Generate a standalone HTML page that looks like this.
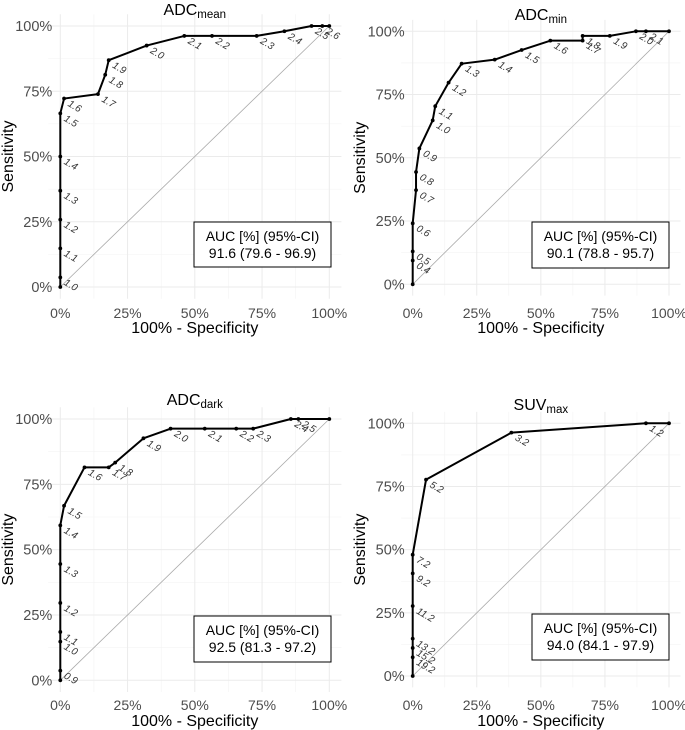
<!DOCTYPE html>
<html><head><meta charset="utf-8"><style>
html,body{margin:0;padding:0;background:#fff;}
svg{display:block;font-family:"Liberation Sans",sans-serif;}
</style></head><body>
<svg id="chart" width="685" height="730" viewBox="0 0 685 730"></svg>
<script>
// ADCmean
const meanX=[0,0,0,0,0,0,0,0.014,0.14,0.167,0.18,0.321,0.461,0.564,0.73,0.833,0.934,0.974,1];
const meanY=[0,0.037,0.148,0.258,0.369,0.5,0.665,0.722,0.739,0.813,0.869,0.925,0.962,0.962,0.962,0.98,1,1,1];
const meanLbl=["","1.0","1.1","1.2","1.3","1.4","1.5","1.6","1.7","1.8","1.9","2.0","2.1","2.2","2.3","2.4","2.5","2.6",""];
// ADCmin
const minX=[0,0,0,0,0.013,0.013,0.026,0.078,0.088,0.14,0.191,0.32,0.425,0.537,0.663,0.663,0.769,0.871,0.91,1];
const minY=[0,0.094,0.13,0.241,0.372,0.444,0.537,0.648,0.704,0.797,0.872,0.888,0.926,0.963,0.963,0.982,0.982,1,1,1];
const minLbl=["","0.4","0.5","0.6","0.7","0.8","0.9","1.0","1.1","1.2","1.3","1.4","1.5","1.6","1.7","1.8","1.9","2.0","2.1",""];
// ADCdark
const darkX=[0,0,0,0,0,0,0,0.014,0.09,0.18,0.204,0.309,0.41,0.537,0.654,0.717,0.857,0.885,1];
const darkY=[0,0.037,0.148,0.185,0.296,0.445,0.593,0.668,0.815,0.815,0.833,0.926,0.963,0.963,0.963,0.963,1,1,1];
const darkLbl=["","0.9","1.0","1.1","1.2","1.3","1.4","1.5","1.6","1.7","1.8","1.9","2.0","2.1","2.2","2.3","2.4","2.5",""];
// SUVmax
const suvX=[0,0,0,0,0,0,0,0.052,0.385,0.91,1];
const suvY=[0,0.074,0.111,0.148,0.277,0.406,0.48,0.777,0.963,1,1];
const suvLbl=["","19.2","15.2","13.2","11.2","9.2","7.2","5.2","3.2","1.2",""];
const tickVals=[0,0.25,0.5,0.75,1];
const tickLbls=["0%","25%","50%","75%","100%"];
const aucLines=[["AUC [%] (95%-CI)","91.6 (79.6 - 96.9)"],["AUC [%] (95%-CI)","90.1 (78.8 - 95.7)"],["AUC [%] (95%-CI)","92.5 (81.3 - 97.2)"],["AUC [%] (95%-CI)","94.0 (84.1 - 97.9)"]];

const NS="http://www.w3.org/2000/svg";
const svg=document.getElementById('chart');
function mk(tag,attrs,parent,text){const e=document.createElementNS(NS,tag);for(const k in attrs)e.setAttribute(k,attrs[k]);if(text!==undefined)e.textContent=text;(parent||svg).appendChild(e);return e;}

const panels=[
 {name:'adc-mean',main:'ADC',sub:'mean',xs:meanX,ys:meanY,lb:meanLbl,x0:60.3,x1:329.3,y0:287,y1:26,titleY:15,xtY:318,xtitleY:333,ytX:13,box:[194,222,137,45],auc:0},
 {name:'adc-min',main:'ADC',sub:'min',xs:minX,ys:minY,lb:minLbl,x0:412.7,x1:669,y0:284.3,y1:31.3,titleY:20,xtY:318,xtitleY:333,ytX:365,box:[532,222,137,46],auc:1},
 {name:'adc-dark',main:'ADC',sub:'dark',xs:darkX,ys:darkY,lb:darkLbl,x0:60.3,x1:329.3,y0:680.3,y1:419,titleY:405,xtY:710,xtitleY:726,ytX:13,box:[194,616,137,46],auc:2},
 {name:'suv-max',main:'SUV',sub:'max',xs:suvX,ys:suvY,lb:suvLbl,x0:412.7,x1:669,y0:676,y1:423.3,titleY:410,xtY:710,xtitleY:726,ytX:365,box:[532,614,137,46],auc:3}
];

panels.forEach(p=>{
  const g=mk('g',{});
  
  
  const sx=v=>p.x0+v*(p.x1-p.x0);
  const sy=v=>p.y0+v*(p.y1-p.y0);
  const ex=(p.x1-p.x0)*0.045, ey=(p.y0-p.y1)*0.045;
  [0.125,0.375,0.625,0.875].forEach(v=>{
    mk('line',{x1:sx(v),x2:sx(v),y1:p.y1-ey,y2:p.y0+ey,stroke:'#f3f3f3','stroke-width':0.6},g);
    mk('line',{x1:p.x0-ex,x2:p.x1+ex,y1:sy(v),y2:sy(v),stroke:'#f3f3f3','stroke-width':0.6},g);
  });
  tickVals.forEach((v,i)=>{
    mk('line',{x1:sx(v),x2:sx(v),y1:p.y1-ey,y2:p.y0+ey,stroke:'#ebebeb','stroke-width':1},g);
    mk('line',{x1:p.x0-ex,x2:p.x1+ex,y1:sy(v),y2:sy(v),stroke:'#ebebeb','stroke-width':1},g);
    const xt=mk('text',{x:sx(v),y:p.xtY,'text-anchor':'middle','font-size':14,fill:'#4d4d4d'},g,tickLbls[i]);
    
    
    const yt=mk('text',{x:p.x0-8,y:sy(v)+5,'text-anchor':'end','font-size':14.5,fill:'#4d4d4d'},g,tickLbls[i]);
    
    
  });
  const diag=mk('line',{x1:sx(0),y1:sy(0),x2:sx(1),y2:sy(1),stroke:'#aaaaaa','stroke-width':0.8},g);
  
  
  const pts=p.xs.map((x,i)=>sx(x)+','+sy(p.ys[i])).join(' ');
  const line=mk('polyline',{points:pts,fill:'none',stroke:'#000','stroke-width':2,'stroke-linejoin':'round'},g);
  
  
  p.xs.forEach((x,i)=>{
    const c=mk('circle',{cx:sx(x),cy:sy(p.ys[i]),r:1.9,fill:'#000'},g);
    
    
    if(p.lb[i]){
      const lx=sx(x)+3, ly=sy(p.ys[i])+7;
      const t=mk('text',{x:lx,y:ly,'font-size':10,fill:'#333','font-style':'italic',transform:`rotate(30 ${lx} ${ly})`},g,p.lb[i]);
      
      
    }
  });
  const b=p.box;
  const box=mk('rect',{x:b[0],y:b[1],width:b[2],height:b[3],fill:'#fff',stroke:'#000','stroke-width':1},g);
  
  
  aucLines[p.auc].forEach((s,k)=>{
    const t=mk('text',{x:b[0]+b[2]/2,y:b[1]+19+k*17,'text-anchor':'middle','font-size':14,fill:'#000'},g,s);
    
    
  });
  const cx=(p.x0+p.x1)/2;
  const title=mk('text',{x:cx,y:p.titleY,'text-anchor':'middle','font-size':16,fill:'#000'},g);
  
  
  mk('tspan',{},title,p.main);
  mk('tspan',{'font-size':11.5,dy:3},title,p.sub);
  const xtl=mk('text',{x:cx,y:p.xtitleY,'text-anchor':'middle','font-size':16,fill:'#000'},g,'100% - Specificity');
  
  
  const cy=(p.y0+p.y1)/2;
  const ytl=mk('text',{x:p.ytX,y:cy,'text-anchor':'middle','font-size':16,fill:'#000',transform:`rotate(-90 ${p.ytX} ${cy})`},g,'Sensitivity');
  
  
});
</script>
</body></html>
